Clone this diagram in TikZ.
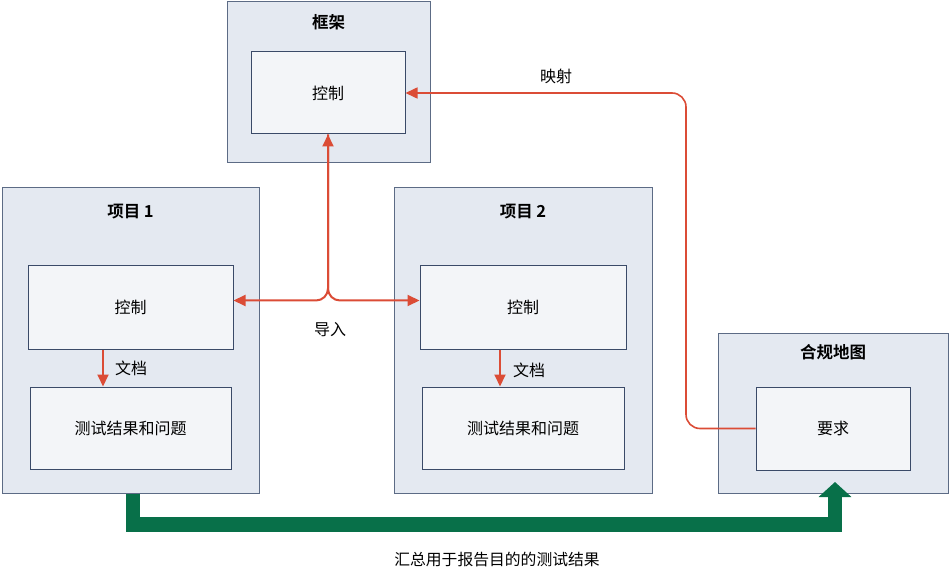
\documentclass[tikz,border=0pt]{standalone}
\usepackage{fontspec}
\setmainfont{Noto Sans CJK SC}[BoldFont={Noto Sans CJK SC Bold}]
\usetikzlibrary{arrows.meta}
\definecolor{outerfill}{HTML}{E4E9F1}
\definecolor{outerdraw}{HTML}{5C6B85}
\definecolor{innerfill}{HTML}{F3F5F8}
\definecolor{innerdraw}{HTML}{3A4A68}
\definecolor{arrred}{HTML}{DB4C36}
\definecolor{arrgreen}{HTML}{087049}
\tikzset{
  outerbox/.style={draw=outerdraw, fill=outerfill, line width=1pt, inner sep=0pt},
  innerbox/.style={draw=innerdraw, fill=innerfill, line width=1pt, inner sep=0pt, font=\fontsize{16}{18}\selectfont},
  titletext/.style={font=\bfseries\fontsize{16.5}{19}\selectfont, inner sep=0pt},
  lbl/.style={font=\fontsize{16}{18}\selectfont, inner sep=0pt},
  redarrow/.style={draw=arrred, line width=2pt, -{Triangle[length=12pt,width=11pt]}},
  redarrowboth/.style={draw=arrred, line width=2pt, {Triangle[length=12pt,width=11pt]}-{Triangle[length=12pt,width=11pt]}},
  greenarrow/.style={draw=arrgreen, line width=14.5pt, line join=miter, -{Triangle[length=15pt,width=32pt]}}
}
\begin{document}
\begin{tikzpicture}[x=1pt,y=-1pt]
\useasboundingbox (0,0) rectangle (951,580);
% framework
\node[outerbox, minimum width=203pt, minimum height=161pt] (fw) at (328.5,82.5) {};
\node[titletext] (fwt) at (328.5,22) {框架};
\node[innerbox, minimum width=154pt, minimum height=82pt] (fwc) at (328,93) {控制};
% project 1
\node[outerbox, minimum width=257pt, minimum height=305pt] (p1) at (130.5,340.5) {};
\node[titletext] (p1t) at (130.5,212) {项目 1};
\node[innerbox, minimum width=205pt, minimum height=83pt] (p1c) at (130.5,307.5) {控制};
\node[innerbox, minimum width=201pt, minimum height=82pt] (p1r) at (130.5,428) {测试结果和问题};
% project 2
\node[outerbox, minimum width=258pt, minimum height=305pt] (p2) at (523,340.5) {};
\node[titletext] (p2t) at (523,212) {项目 2};
\node[innerbox, minimum width=206pt, minimum height=83pt] (p2c) at (523,307.5) {控制};
\node[innerbox, minimum width=202pt, minimum height=82pt] (p2r) at (523,428) {测试结果和问题};
% compliance map
\node[outerbox, minimum width=230pt, minimum height=160pt] (cm) at (833,413) {};
\node[titletext] (cmt) at (833,352) {合规地图};
\node[innerbox, minimum width=154pt, minimum height=83pt] (req) at (833,428.5) {要求};
% coordinates
\coordinate (imp) at (328,300.5);
\coordinate (mapx) at (686,0);
\coordinate (d1x) at (103,0);
\coordinate (d2x) at (500,0);
\coordinate (gl) at (133,524.5);
\coordinate (gtip) at (835,482);
% import arrows
\draw[redarrowboth, rounded corners=12pt] (fwc.south) -- (imp) -- (imp -| p1c.east);
\draw[redarrow, rounded corners=12pt] (fwc.south) -- (imp) -- (imp -| p2c.west);
\node[lbl] (implbl) at (330,330) {导入};
% mapping
\draw[redarrow, line width=1.6pt, rounded corners=14pt] (req.west) -- (req.west -| mapx) -- (mapx |- fwc.east) -- (fwc.east);
\node[lbl] (maplbl) at (556,76) {映射};
% document arrows
\draw[redarrow] (p1c.south -| d1x) -- (p1r.north -| d1x);
\node[lbl] (doc1) at (131,368) {文档};
\draw[redarrow] (p2c.south -| d2x) -- (p2r.north -| d2x);
\node[lbl] (doc2) at (529,370) {文档};
% green aggregate arrow
\draw[greenarrow] (p1.south -| gl) -- (gl) -- (gl -| gtip) -- (gtip);
\node[font=\fontsize{15.8}{18}\selectfont, inner sep=0pt] (agglbl) at (497,560) {汇总用于报告目的的测试结果};
\end{tikzpicture}
\end{document}
